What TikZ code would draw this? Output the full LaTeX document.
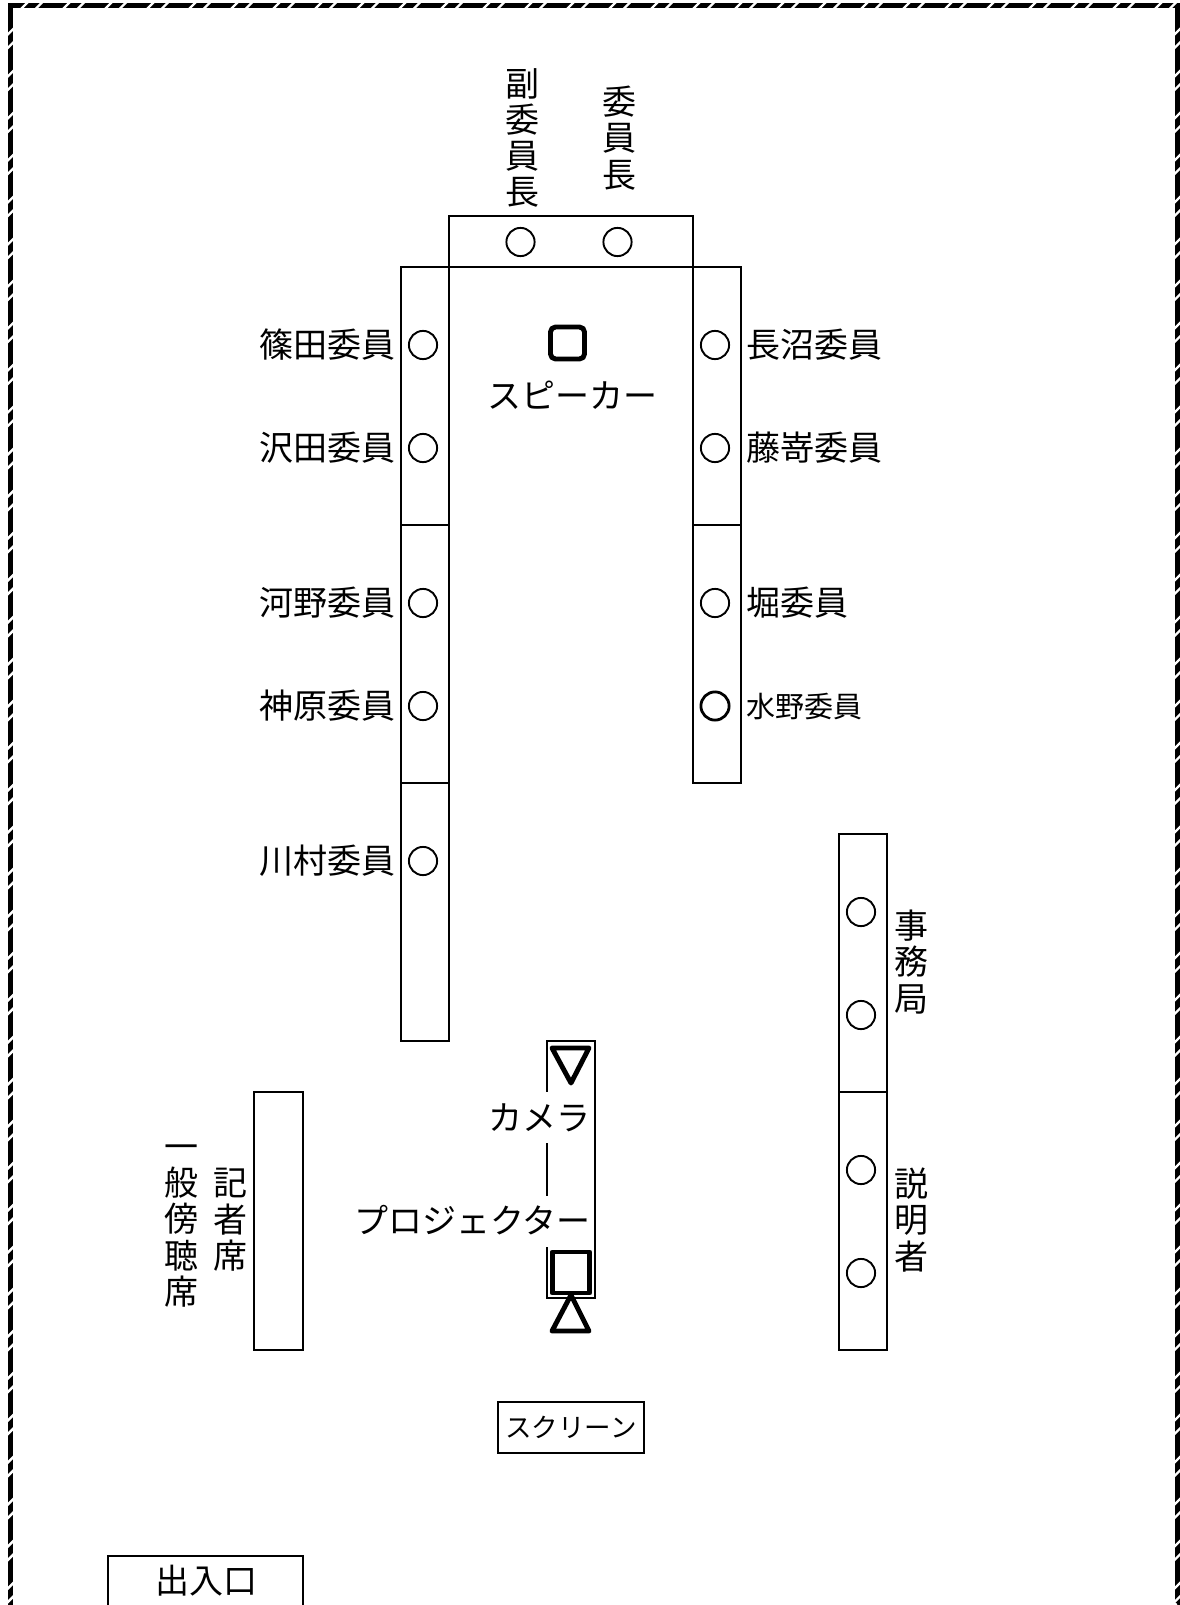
\documentclass[tikz,border=0pt]{standalone}
\usepackage{fontspec}
\setmainfont{Noto Sans CJK JP}
\tikzset{
  px/.style={x=1pt,y=-1pt},
  framestroke/.style={draw=black,line width=5pt},
  gapline/.style={draw=white,line width=2.4pt},
  tbl/.style={draw=black,line width=2.1pt},
  seat/.style={circle,draw=black,line width=1.9pt,minimum size=28.2pt,inner sep=0pt},
  seatb/.style={seat,line width=2.8pt},
  lab/.style={font=\fontsize{34}{36}\selectfont,inner sep=0pt,text height=29pt,text depth=4pt},
  vlab/.style={font=\fontsize{34}{36.3}\selectfont,inner sep=0pt,align=center},
  thick4/.style={draw=black,line width=4.9pt,line join=round},
}
\begin{document}
\begin{tikzpicture}[px]
\useasboundingbox (0,0) rectangle (1179,1605);
\fill[white] (0,0) rectangle (1179,1605);
% room outline
\draw[framestroke] (10.8,1610) -- (10.8,6) -- (1177.5,6) -- (1177.5,1607.3) -- (10.8,1607.3);
\foreach \k in {0,...,28}{
  \foreach \g in {24,38.5}{
    \draw[gapline] ({\g+42*\k-4},10) -- ++(8,-8);
    \draw[gapline] ({\g+42*\k-4},1611.3) -- ++(8,-8);
  }
}
\foreach \k in {0,...,38}{
  \foreach \g in {31.5,45}{
    \draw[gapline] (6.8,{\g+42*\k+4}) -- ++(8,-8);
    \draw[gapline] (1173.5,{\g+42*\k+4}) -- ++(8,-8);
  }
}
% tables
\draw[tbl] (449,216) rectangle (693,267);
\draw[tbl] (401,267) rectangle (449,525);
\draw[tbl] (401,525) rectangle (449,783);
\draw[tbl] (401,783) rectangle (449,1041);
\draw[tbl] (693,267) rectangle (741,525);
\draw[tbl] (693,525) rectangle (741,783);
\draw[tbl] (839,834) rectangle (887,1092);
\draw[tbl] (839,1092) rectangle (887,1350);
\draw[tbl] (254,1092) rectangle (303,1350);
\draw[tbl] (547,1041) rectangle (595,1298);
% seats
\node[seat] (s1) at (520.5,242) {};
\node[seat] (s2) at (617.5,242) {};
\node[seat] (l1) at (423,345) {};
\node[seat] (l2) at (423,448) {};
\node[seat] (l3) at (423,603) {};
\node[seat] (l4) at (423,706) {};
\node[seat] (l5) at (423,861) {};
\node[seat] (r1) at (715,345) {};
\node[seat] (r2) at (715,448) {};
\node[seat] (r3) at (715,603) {};
\node[seatb] (r4) at (715,706) {};
\node[seat] (j1) at (861,912) {};
\node[seat] (j2) at (861,1015) {};
\node[seat] (e1) at (861,1170) {};
\node[seat] (e2) at (861,1273) {};
% left labels
\node[lab,anchor=east] (tl1) at (396,345) {篠田委員};
\node[lab,anchor=east] (tl2) at (396,448) {沢田委員};
\node[lab,anchor=east] (tl3) at (396,603) {河野委員};
\node[lab,anchor=east] (tl4) at (396,706) {神原委員};
\node[lab,anchor=east] (tl5) at (396,861) {川村委員};
% right labels
\node[lab,anchor=west] (tr1) at (746,345) {長沼委員};
\node[lab,anchor=west] (tr2) at (746,448) {藤嵜委員};
\node[lab,anchor=west] (tr3) at (746,603) {堀委員};
\node[lab,anchor=west,font=\fontsize{29}{32}\selectfont] (tr4) at (746,704.5) {水野委員};
% vertical labels
\node[vlab] (v1) at (522,138) {副\\委\\員\\長};
\node[vlab] (v2) at (619.5,138) {委\\員\\長};
\node[vlab] (v3) at (911.5,962) {事\\務\\局};
\node[vlab] (v4) at (911.5,1220) {説\\明\\者};
\node[vlab] (v5) at (230,1220) {記\\者\\席};
\node[vlab] (v6) at (181,1226) {一\\般\\傍\\聴\\席};
% speaker
\draw[thick4,rounded corners=5pt] (550.5,327) rectangle (584.5,359);
\node[lab] (spk) at (572.5,396) {スピーカー};
% camera and projector
\node[lab,fill=white,anchor=east,text height=38pt,text depth=13pt] (cam) at (591,1117.5) {カメラ};
\node[lab,fill=white,anchor=east,text height=38pt,text depth=13pt] (proj) at (591,1221) {プロジェクター};
\draw[thick4] (552,1048) -- (589,1048) -- (571,1083) -- cycle;
\draw[thick4] (552.5,1252) rectangle (589.5,1293);
\draw[thick4] (571,1295) -- (589,1331) -- (552,1331) -- cycle;
% screen
\node[tbl,minimum width=146pt,minimum height=51pt,inner sep=0pt,font=\fontsize{26.5}{30}\selectfont] (scr) at (571,1427.5) {スクリーン};
% entrance
\filldraw[tbl,fill=white] (108,1607) -- (108,1556) -- (303,1556) -- (303,1607);
\node[lab] (door) at (206,1581) {出入口};
\end{tikzpicture}
\end{document}
